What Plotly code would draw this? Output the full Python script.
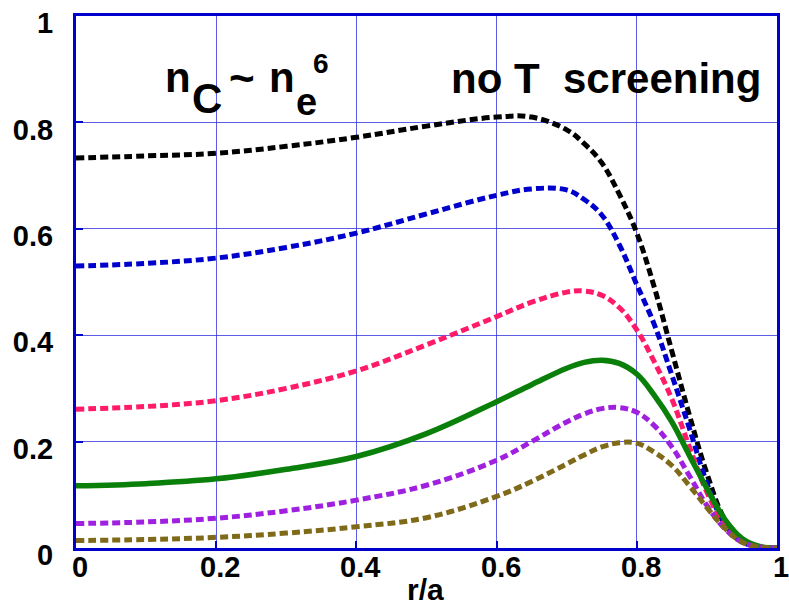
import plotly.graph_objects as go

# Radial grid r/a shared by all profiles
r = [0, 0.1, 0.2, 0.3, 0.4, 0.5, 0.6, 0.65, 0.7, 0.725, 0.75, 0.775,
     0.8, 0.825, 0.85, 0.875, 0.9, 0.925, 0.95, 0.975, 1.0]

black = [0.733, 0.737, 0.742, 0.755, 0.772, 0.793, 0.810, 0.810, 0.786, 0.760, 0.724, 0.665,
         0.592, 0.490, 0.370, 0.250, 0.140, 0.055, 0.015, 0.002, 0.0]
blue = [0.530, 0.535, 0.545, 0.565, 0.592, 0.628, 0.663, 0.675, 0.673, 0.655, 0.626, 0.570,
        0.495, 0.420, 0.325, 0.225, 0.122, 0.046, 0.012, 0.002, 0.0]
pink = [0.261, 0.266, 0.277, 0.300, 0.333, 0.382, 0.435, 0.462, 0.481, 0.483, 0.475, 0.452,
        0.410, 0.350, 0.280, 0.190, 0.105, 0.045, 0.012, 0.002, 0.0]
green = [0.117, 0.121, 0.130, 0.148, 0.172, 0.215, 0.275, 0.307, 0.338, 0.349, 0.353, 0.347,
         0.327, 0.287, 0.237, 0.174, 0.112, 0.055, 0.018, 0.003, 0.0]
purple = [0.046, 0.049, 0.056, 0.070, 0.090, 0.118, 0.165, 0.200, 0.237, 0.252, 0.262, 0.264,
          0.255, 0.230, 0.190, 0.136, 0.080, 0.037, 0.011, 0.002, 0.0]
olive = [0.014, 0.016, 0.020, 0.028, 0.040, 0.057, 0.097, 0.125, 0.158, 0.175, 0.190, 0.198,
         0.197, 0.180, 0.155, 0.117, 0.076, 0.038, 0.011, 0.002, 0.0]

tick_vals = [0, 0.2, 0.4, 0.6, 0.8, 1]
tick_text = ["0", "0.2", "0.4", "0.6", "0.8", "1"]

series = [
    (black, "#000000", "8px,4px", 5),
    (blue, "#0000cc", "8px,4px", 5),
    (pink, "#ff1a6a", "8px,4px", 5),
    (green, "#0a800a", "solid", 5.5),
    (purple, "#a020e0", "8px,4px", 5),
    (olive, "#7f6a1a", "8px,4px", 5),
]

FONT = "Liberation Sans, Arial, sans-serif"
FRAME = "#0000cc"
GRID = "rgba(40,40,220,0.75)"
TICK_SIZE = 29

fig = go.Figure()
for vals, color, dash, w in series:
    fig.add_trace(go.Scatter(
        x=r, y=vals, mode="lines",
        line=dict(color=color, width=w, dash=dash, shape="spline", smoothing=1.1),
        showlegend=False, hoverinfo="skip",
    ))

W, H = 789, 609
L, R, T, B = 76, 12, 16, 61
PW, PH = W - L - R, H - T - B


def px(xp):
    return (xp - L) / PW


def py(yp):
    return (H - B - yp) / PH


axis_common = dict(
    range=[0, 1], showline=True, mirror=True, linecolor=FRAME, linewidth=3,
    showgrid=True, gridcolor=GRID, gridwidth=1, zeroline=False, automargin=False,
    ticks="inside", ticklen=7, tickwidth=2, tickcolor=FRAME,
    tickvals=tick_vals, ticktext=tick_text,
    tickfont=dict(family=FONT, size=TICK_SIZE, color="black", weight="bold"),
)

fig.update_layout(
    width=W, height=H,
    margin=dict(l=L, r=R, t=T, b=B, autoexpand=False),
    plot_bgcolor="white", paper_bgcolor="white",
    xaxis=dict(**axis_common, showticklabels=False),
    yaxis=dict(**axis_common, ticklabelstandoff=14, ticklabelshift=7),
)

# Bottom tick labels sit close under the frame
for v, t in zip(tick_vals, tick_text):
    fig.add_annotation(
        text=t, xref="x", yref="paper", x=v, y=py(577 - 0.3465 * TICK_SIZE),
        xanchor="center", yanchor="middle", xshift=4, showarrow=False,
        font=dict(family=FONT, size=TICK_SIZE, color="black", weight="bold"),
    )

# White panel behind the scaling label (hides gridlines, stays under traces)
fig.add_shape(type="rect", xref="paper", yref="paper",
              x0=px(162), x1=px(333), y0=py(126), y1=py(37),
              fillcolor="white", line=dict(width=0), layer="between")

# Scaling label built from separately sized pieces: n_C ~ n_e^6
pieces = [
    ("n", 163, 42, 92),
    ("C", 190, 42, 113),
    ("~", 227, 44, 93),
    ("n", 267, 42, 92),
    ("e", 294, 38, 115),
    ("6", 311, 28, 73),
]
for txt, xl, size, base in pieces:
    fig.add_annotation(
        text=txt, xref="paper", yref="paper",
        x=px(xl), y=py(base - 0.3465 * size),
        xanchor="left", yanchor="middle", showarrow=False,
        font=dict(family=FONT, size=size, color="black", weight="bold"),
    )

fig.add_annotation(
    text="no T\u00a0\u00a0screening", xref="paper", yref="paper",
    x=px(449), y=py(93 - 0.3465 * 42),
    xanchor="left", yanchor="middle", showarrow=False,
    font=dict(family=FONT, size=42, color="black", weight="bold"),
)

# Axis title
fig.add_annotation(
    text="r/a", xref="paper", yref="paper",
    x=px(425), y=py(600 - 0.3465 * 30),
    xanchor="center", yanchor="middle", showarrow=False,
    font=dict(family=FONT, size=30, color="black", weight="bold"),
)

fig.write_html("out.html")
